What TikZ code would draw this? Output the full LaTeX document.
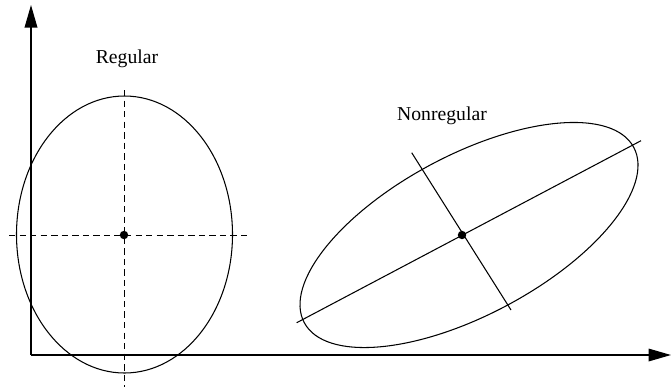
\documentclass[tikz,border=0pt]{standalone}
\usepackage{fontspec}
\setmainfont{Liberation Serif}
\usetikzlibrary{arrows.meta}
\begin{document}
\begin{tikzpicture}[x=0.025cm,y=-0.025cm,
  axis/.style={line width=0.9pt,-{Triangle[length=16pt,width=9pt]}},
  thinline/.style={line width=0.75pt},
  dashline/.style={line width=0.7pt,dash pattern=on 4.5pt off 3pt},
  dotnode/.style={circle,fill=black,inner sep=0pt,minimum size=6pt},
  lbl/.style={font=\fontsize{14}{16}\selectfont}]
\useasboundingbox (0,0) rectangle (671,390);
% axes
\coordinate (O) at (31,355);
\coordinate (ytip) at (31,5);
\coordinate (xtip) at (671,355);
\draw[axis] (O) -- (ytip);
\draw[axis] (O) -- (xtip);
% regular ellipse
\node[dotnode] (c1) at (124,235) {};
\draw[thinline] (124.5,234.5) ellipse [x radius=108, y radius=138.5];
\coordinate (v1) at (124,90);
\coordinate (v2) at (124,387);
\coordinate (h1) at (9,235);
\coordinate (h2) at (247,235);
\draw[dashline] (v1) -- (v2);
\draw[dashline] (h1) -- (h2);
\node[lbl] (reg) at (127,59) {Regular};
% nonregular ellipse
\node[dotnode] (c2) at (462,235) {};
\draw[thinline] (469,235) ellipse [x radius=186.6, y radius=80, rotate=28];
\coordinate (m1) at (296.7,322.7);
\coordinate (m2) at (641,140.7);
\coordinate (n1) at (411.7,152.7);
\coordinate (n2) at (511,310);
\draw[thinline] (m1) -- (m2);
\draw[thinline] (n1) -- (n2);
\node[lbl] (nreg) at (442,116) {Nonregular};
\end{tikzpicture}
\end{document}
